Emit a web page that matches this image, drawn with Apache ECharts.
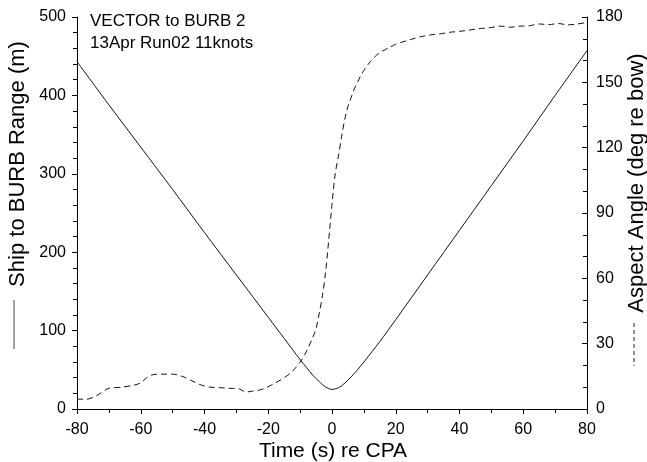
<!DOCTYPE html>
<html>
<head>
<meta charset="utf-8">
<script src="https://cdn.jsdelivr.net/npm/echarts@6/dist/echarts.min.js"></script>
<style>html,body{margin:0;padding:0;background:#fff}#c{width:647px;height:462px}</style>
</head>
<body>
<div id="c"></div>
<script>
var rangeT = [-80,-70,-60,-50,-40,-30,-20,-15,-10,-8,-6,-4,-2,0,2,4,6,8,10,15,20,30,40,50,60,70,80];
var rangeV = [443,388,334,280,225,171,117,90,63,53,43,35,28,25,27,33,41,50,60,86,114,171,228,285,342,400,457];

var aspT = [-80,-77,-74,-70,-66,-62,-60,-58,-56,-53,-50,-47,-44,-41,-38,-35,-32,-29,-27,-25,-22,-19,-16,-13,-10,-8,-6,-5,-4,-3,-2,-1,0,1,2,3,4,5,6,7,8,9,10,12,14,16,18,20,22,25,28,31,34,37,40,43,46,50,53,56,59,62,65,68,71,74,77,80];
var aspV = [4.5,4.5,6,9.5,10,11,12,14.5,15.8,16,16,15,13,11,10,9.8,9.5,9.2,7.8,8.2,9,11,13.5,16.5,21.5,26.5,33,37,44,52,63,78,94,108,116,125,133,139,143,147,150,153,155.5,159.5,162.5,164.5,166,167.5,168.5,169.8,171,171.8,172.3,173,173.4,174,174.6,175.2,175.8,175.3,175.8,176,176.8,176.5,177,176.4,176.8,177.5];

var xTicks = [-80,-60,-40,-20,0,20,40,60,80];
var leftTicks = [0,100,200,300,400,500];
var rightTicks = [0,30,60,90,120,150,180];

var titleLines = ['VECTOR to BURB 2', '13Apr Run02 11knots'];
var xName = 'Time (s) re CPA';
var leftName = 'Ship to BURB Range (m)';
var rightName = 'Aspect Angle (deg re bow)';

function pairs(t, v){ return t.map(function(x,i){ return [x, v[i]]; }); }

var FONT = '"Liberation Sans", Arial, sans-serif';
var chart = echarts.init(document.getElementById('c'), null, {renderer:'canvas'});
function axLine(){ return {show:true, onZero:false, lineStyle:{color:'#000', width:1}}; }
chart.setOption({
  animation:false,
  backgroundColor:'#fff',
  grid:{left:77, right:60, top:17, bottom:53, containLabel:false},
  xAxis:{type:'value', min:xTicks[0], max:xTicks[xTicks.length-1], interval:20,
    axisLine:axLine(),
    axisTick:{show:true, length:5, inside:false, lineStyle:{color:'#000'}},
    minorTick:{show:true, splitNumber:2, length:4, lineStyle:{color:'#000'}},
    splitLine:{show:false},
    axisLabel:{color:'#000', fontSize:16, fontFamily:FONT, margin:13}
  },
  yAxis:[
    {type:'value', min:leftTicks[0], max:leftTicks[leftTicks.length-1], interval:100, position:'left',
      axisLine:axLine(),
      axisTick:{show:true, length:5, inside:false, lineStyle:{color:'#000'}},
      minorTick:{show:true, splitNumber:5, length:4, lineStyle:{color:'#000'}},
      splitLine:{show:false},
      axisLabel:{color:'#000', fontSize:16, fontFamily:FONT, margin:11}
    },
    {type:'value', min:rightTicks[0], max:rightTicks[rightTicks.length-1], interval:30, position:'right',
      axisLine:axLine(),
      axisTick:{show:true, length:5, inside:true, lineStyle:{color:'#000'}},
      minorTick:{show:true, splitNumber:3, length:4, lineStyle:{color:'#000'}},
      splitLine:{show:false},
      axisLabel:{color:'#000', fontSize:16, fontFamily:FONT, margin:9}
    }
  ],
  series:[
    {type:'line', yAxisIndex:0, data:pairs(rangeT, rangeV), showSymbol:false, smooth:0.3,
      lineStyle:{color:'#111', width:1}},
    {type:'line', yAxisIndex:1, data:pairs(aspT, aspV), showSymbol:false, smooth:0.3,
      lineStyle:{color:'#111', width:1, type:[6,4]}}
  ],
  graphic:[
    {type:'text', left:90, top:10, style:{text:titleLines.join('\n'), font:'17px '+FONT, fill:'#000', lineHeight:22}},
    {type:'text', x:333, y:451, style:{text:xName, font:'21px '+FONT, fill:'#000', align:'center', verticalAlign:'middle'}},
    {type:'text', x:18, y:164, rotation:Math.PI/2, style:{text:leftName, font:'22px '+FONT, fill:'#000', align:'center', verticalAlign:'middle'}},
    {type:'line', shape:{x1:14, y1:300, x2:14, y2:349}, style:{stroke:'#444', lineWidth:1}},
    {type:'text', x:637, y:183, rotation:Math.PI/2, style:{text:rightName, font:'22px '+FONT, fill:'#000', align:'center', verticalAlign:'middle'}},
    {type:'line', shape:{x1:634, y1:323, x2:634, y2:366}, style:{stroke:'#222', lineWidth:1, lineDash:[4,3]}}
  ]
});
</script>
</body>
</html>
